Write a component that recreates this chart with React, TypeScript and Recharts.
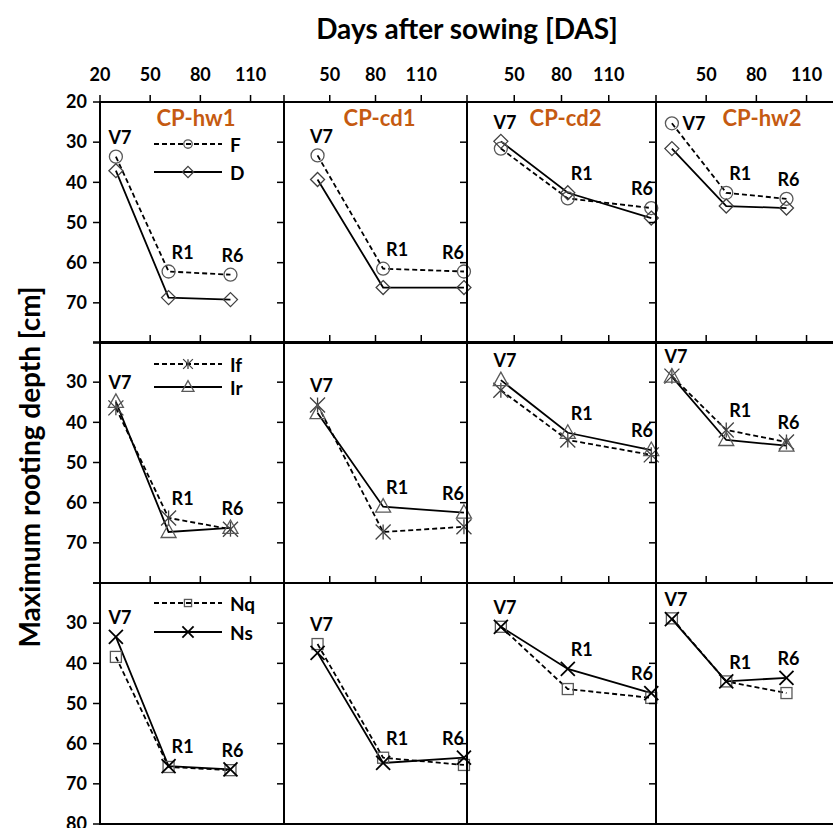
import React from 'react';
import { LineChart, Line, XAxis, YAxis, ReferenceArea, LabelList } from 'recharts';

const sites = ['CP-hw1', 'CP-cd1', 'CP-cd2', 'CP-hw2'];
const stages = ['V7', 'R1', 'R6'];
const xTicks = [20, 50, 80, 110];
const yTicks = [20, 30, 40, 50, 60, 70, 80];
const xMax = [130, 140, 140, 130];

// days after sowing at V7, R1, R6
const dasHw1 = [29.5, 61, 98];
const dasCd1 = [42, 85, 138];
const dasCd2 = [41.5, 84, 137];
const dasHw2 = [29.5, 62, 98];

// max rooting depth [cm]
const fHw1 = [33.6, 62.2, 63.0];
const fCd1 = [33.3, 61.5, 62.2];
const fCd2 = [31.6, 44.0, 46.4];
const fHw2 = [25.3, 42.6, 44.1];
const dHw1 = [37.1, 68.7, 69.2];
const dCd1 = [39.3, 66.2, 66.2];
const dCd2 = [29.8, 42.6, 48.9];
const dHw2 = [31.6, 45.9, 46.4];

const ifHw1 = [36.4, 63.8, 66.6];
const ifCd1 = [35.7, 67.3, 66.0];
const ifCd2 = [32.0, 44.4, 48.1];
const ifHw2 = [28.5, 41.9, 44.9];
const irHw1 = [34.9, 67.3, 66.3];
const irCd1 = [37.7, 61.0, 62.5];
const irCd2 = [29.5, 42.6, 46.9];
const irHw2 = [28.6, 44.4, 45.8];

const nqHw1 = [38.4, 65.8, 66.6];
const nqCd1 = [35.2, 63.5, 65.3];
const nqCd2 = [30.9, 46.4, 48.6];
const nqHw2 = [28.8, 44.5, 47.4];
const nsHw1 = [33.4, 65.6, 66.4];
const nsCd1 = [37.4, 64.8, 63.5];
const nsCd2 = [30.9, 41.4, 47.4];
const nsHw2 = [29.0, 44.5, 43.6];

const das = [dasHw1, dasCd1, dasCd2, dasHw2];
const rows = [
  { names: ['F', 'D'], marks: ['circle', 'diamond'], a: [fHw1, fCd1, fCd2, fHw2], b: [dHw1, dCd1, dCd2, dHw2] },
  { names: ['If', 'Ir'], marks: ['star', 'triangle'], a: [ifHw1, ifCd1, ifCd2, ifHw2], b: [irHw1, irCd1, irCd2, irHw2] },
  { names: ['Nq', 'Ns'], marks: ['square', 'x'], a: [nqHw1, nqCd1, nqCd2, nqHw2], b: [nsHw1, nsCd1, nsCd2, nsHw2] },
];

// layout
const colLeft = [100, 284, 467, 656];
const colW = [184, 183, 189, 184];
const rowTop = [102, 342, 583];
const rowH = 241;
const PAD = 45;
const FONT = 'Lato, Carlito, "Open Sans", sans-serif';
const ORANGE = '#C55A11';
const labelShift = [4, 14, 2];
const legendY = [[144, 172], [364, 387], [603, 632]];

function Marker({ kind, cx, cy, s = 1 }: { kind: string; cx: number; cy: number; s?: number }) {
  const gray = '#595959';
  if (kind === 'circle') return <circle cx={cx} cy={cy} r={6.5 * s} fill="none" stroke={gray} strokeWidth={1.3} />;
  if (kind === 'diamond') {
    const d = 7 * s;
    return <path d={`M${cx},${cy - d}L${cx + d},${cy}L${cx},${cy + d}L${cx - d},${cy}Z`} fill="none" stroke="#404040" strokeWidth={1.3} />;
  }
  if (kind === 'triangle') {
    const w = 7.5 * s;
    return <path d={`M${cx},${cy - 8 * s}L${cx + w},${cy + 5.5 * s}L${cx - w},${cy + 5.5 * s}Z`} fill="none" stroke={gray} strokeWidth={1.3} />;
  }
  if (kind === 'square') {
    const h = 5.5 * s;
    return <rect x={cx - h} y={cy - h} width={2 * h} height={2 * h} fill="none" stroke={gray} strokeWidth={1.3} />;
  }
  if (kind === 'star') {
    const h = 7.5 * s;
    return (
      <g stroke="#404040" strokeWidth={1.3}>
        <line x1={cx} y1={cy - h} x2={cx} y2={cy + h} />
        <line x1={cx - h} y1={cy - h} x2={cx + h} y2={cy + h} />
        <line x1={cx - h} y1={cy + h} x2={cx + h} y2={cy - h} />
      </g>
    );
  }
  const h = 7 * s;
  return (
    <g stroke="#000" strokeWidth={1.8}>
      <line x1={cx - h} y1={cy - h} x2={cx + h} y2={cy + h} />
      <line x1={cx - h} y1={cy + h} x2={cx + h} y2={cy - h} />
    </g>
  );
}

function Panel({ r, c }: { r: number; c: number }) {
  const row = rows[r];
  const data = stages.map((s, i) => ({
    das: das[c][i],
    a: row.a[c][i],
    b: row.b[c][i],
    top: Math.min(row.a[c][i], row.b[c][i]),
    stage: s,
  }));
  const right = PAD + colW[c];
  const stageLabel = (p: any) => {
    const vb = p.viewBox || {};
    const x = p.x ?? vb.x;
    const y = p.y ?? vb.y;
    const i = p.index ?? 0;
    let lx = x + labelShift[i];
    let ly = y - 19;
    if (ly - 9 < PAD) {
      lx = x + 22;
      ly = y;
    }
    lx = Math.min(lx, right - 14);
    return (
      <text x={lx} y={ly} dy="0.35em" textAnchor="middle" fontFamily={FONT} fontWeight={700} fontSize={18} fill="#000">
        {p.value}
      </text>
    );
  };
  const xTick = (p: any) => {
    const v = p.payload.value;
    if (r !== 0 || (v === 20 && c !== 0)) return <g />;
    return (
      <text x={p.x} y={p.y} dy={-6} textAnchor="middle" fontFamily={FONT} fontWeight={700} fontSize={18} fill="#000">
        {v}
      </text>
    );
  };
  const yTick = (p: any) => {
    const v = p.payload.value;
    const show = c === 0 && ((r === 0 && v <= 70) || (r === 1 && v >= 30 && v <= 70) || (r === 2 && v >= 30));
    if (!show) return <g />;
    return (
      <text x={p.x} y={p.y} dy="0.35em" textAnchor="end" fontFamily={FONT} fontWeight={700} fontSize={18} fill="#000">
        {v}
      </text>
    );
  };
  return (
    <div style={{ position: 'absolute', left: colLeft[c] - PAD, top: rowTop[r] - PAD }}>
      <LineChart
        width={colW[c] + PAD + 15}
        height={rowH + PAD + 15}
        data={data}
        margin={{ top: 0, left: 0, right: 15, bottom: 15 }}
      >
        <XAxis
          type="number"
          dataKey="das"
          orientation="top"
          domain={[20, xMax[c]]}
          ticks={xTicks}
          interval={0}
          height={PAD}
          tickSize={7}
          tickMargin={8}
          axisLine={false}
          tickLine={{ stroke: '#000', strokeWidth: 1.5 }}
          tick={xTick}
        />
        <YAxis
          type="number"
          domain={[20, 80]}
          reversed
          ticks={yTicks}
          interval={0}
          width={PAD}
          tickSize={7}
          tickMargin={6}
          axisLine={false}
          tickLine={{ stroke: '#000', strokeWidth: 1.5 }}
          tick={yTick}
        />
        <ReferenceArea x1={20} x2={xMax[c]} y1={20} y2={80} fill="none" stroke="#000" strokeWidth={2} />
        <Line
          type="linear"
          dataKey="a"
          stroke="#000"
          strokeWidth={1.8}
          strokeDasharray="5 3"
          dot={(p: any) => <Marker key={`a${p.index}`} kind={row.marks[0]} cx={p.cx} cy={p.cy} />}
          activeDot={false}
          isAnimationActive={false}
        />
        <Line
          type="linear"
          dataKey="b"
          stroke="#000"
          strokeWidth={1.8}
          dot={(p: any) => <Marker key={`b${p.index}`} kind={row.marks[1]} cx={p.cx} cy={p.cy} />}
          activeDot={false}
          isAnimationActive={false}
        />
        <Line dataKey="top" stroke="transparent" dot={false} activeDot={false} isAnimationActive={false}>
          <LabelList dataKey="stage" content={stageLabel} />
        </Line>
      </LineChart>
    </div>
  );
}

function LegendBox({ r }: { r: number }) {
  const row = rows[r];
  return (
    <>
      {row.names.map((n, i) => (
        <div
          key={n}
          style={{
            position: 'absolute',
            left: 154,
            top: legendY[r][i] - 12,
            height: 24,
            display: 'flex',
            alignItems: 'center',
            fontFamily: FONT,
            fontWeight: 700,
            fontSize: 19,
          }}
        >
          <svg width={68} height={24}>
            <line x1={0} y1={12} x2={68} y2={12} stroke="#000" strokeWidth={1.8} strokeDasharray={i === 0 ? '5 3' : undefined} />
            <Marker kind={row.marks[i]} cx={34} cy={12} s={i === 0 ? 0.65 : 0.8} />
          </svg>
          <span style={{ marginLeft: 8 }}>{n}</span>
        </div>
      ))}
    </>
  );
}

export default function App() {
  return (
    <div style={{ position: 'absolute', left: 0, top: 0, width: 833, height: 828, overflow: 'hidden', background: '#fff' }}>
      {rows.map((_, r) => sites.map((_s, c) => <Panel key={`${r}-${c}`} r={r} c={c} />))}
      {rows.map((_, r) => (
        <LegendBox key={r} r={r} />
      ))}
      {sites.map((s, c) => (
        <div
          key={s}
          style={{
            position: 'absolute',
            left: colLeft[c] + (c === 0 ? 96 : c === 3 ? 106 : colW[c] / 2 + 4) - 60,
            top: 106,
            width: 120,
            textAlign: 'center',
            fontFamily: FONT,
            fontWeight: 700,
            fontSize: 22,
            color: ORANGE,
            lineHeight: '24px',
          }}
        >
          {s}
        </div>
      ))}
      <div
        style={{
          position: 'absolute',
          left: 167,
          top: 11,
          width: 600,
          textAlign: 'center',
          fontFamily: FONT,
          fontWeight: 700,
          fontSize: 28,
          lineHeight: '34px',
        }}
      >
        Days after sowing [DAS]
      </div>
      <div
        style={{
          position: 'absolute',
          left: 29 - 250,
          top: 467 - 17,
          width: 500,
          textAlign: 'center',
          fontFamily: FONT,
          fontWeight: 700,
          fontSize: 28,
          lineHeight: '34px',
          transform: 'rotate(-90deg)',
        }}
      >
        Maximum rooting depth [cm]
      </div>
    </div>
  );
}
